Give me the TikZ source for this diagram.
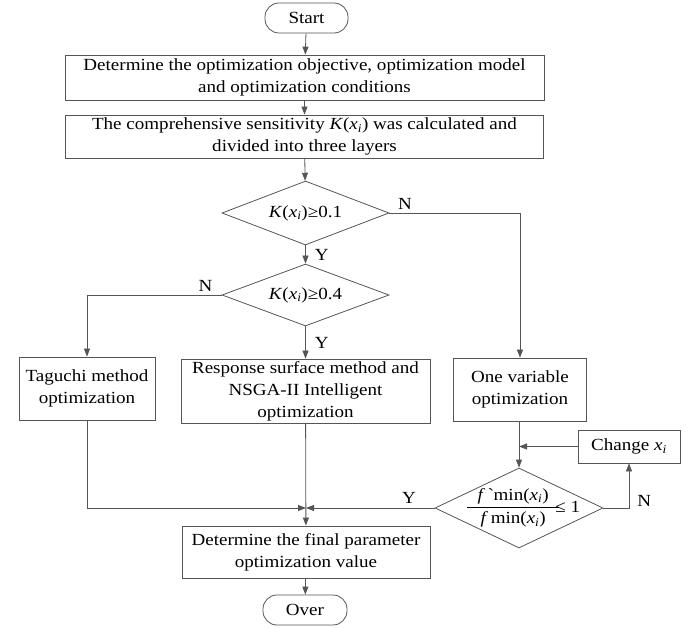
\documentclass[tikz,border=0pt]{standalone}
\usepackage{fontspec}
\setmainfont{Liberation Serif}[FakeStretch=1.12]
\usepackage{amsmath}
\usetikzlibrary{shapes.geometric, arrows.meta, positioning, calc}
\definecolor{flowline}{RGB}{85, 85, 85}
\newcommand{\xsub}{\textit{x}\textsubscript{\textit{i}}}

\begin{document}
\begin{tikzpicture}[x=1pt, y=-1pt,
    font=\fontsize{17}{22}\selectfont,
    every node/.style={inner sep=0pt, align=center},
    term/.style={draw=flowline, line width=0.8pt, rounded corners=14pt},
    procbox/.style={draw=flowline, line width=0.8pt},
    decision/.style={draw=flowline, line width=0.8pt, diamond, aspect=2.5},
    arr/.style={draw=flowline, line width=0.8pt, -{Triangle[length=8pt, width=6pt]}},
    yn/.style={font=\fontsize{17}{18}\selectfont}]
  \useasboundingbox (0,0) rectangle (694,628);

  \node[term, minimum width=83, minimum height=30] (start) at (306.5,18) {Start};
  \node[procbox, minimum width=479, minimum height=45] (goal) at (304.5,77.5)
    {Determine the optimization objective, optimization model\\and optimization conditions};
  \node[procbox, minimum width=478, minimum height=43] (sens) at (304.5,136.5)
    {The comprehensive sensitivity \textit{K}(\xsub) was calculated and\\divided into three layers};
  \node[decision, minimum width=167, minimum height=64] (lowk) at (305.5,213) {\textit{K}(\xsub)≥0.1};
  \node[decision, minimum width=167, minimum height=62] (highk) at (305.5,295) {\textit{K}(\xsub)≥0.4};

  \node[procbox, minimum width=136, minimum height=63] (taguchi) at (87,388.5) {Taguchi method\\optimization};
  \node[procbox, minimum width=249, minimum height=64] (rsm) at (305.5,391)
    {Response surface method and\\NSGA-II Intelligent\\optimization};
  \node[procbox, minimum width=133, minimum height=63] (onevar) at (520,389.5) {One variable\\optimization};

  \node[procbox, minimum width=102, minimum height=33] (change) at (629,446.5) {Change \xsub};
  \node[decision, minimum width=168, minimum height=80] (ratio) at (519,508) {};
  \node (ratiotext) at (ratio) [xshift=4pt]
    {$\dfrac{\makebox[92pt]{\textit{f}\,\textasciigrave min(\xsub)}}{\text{\textit{f}\,min(\xsub)}}$\hspace{-5pt}≤ 1};

  \node[procbox, minimum width=248, minimum height=52] (final) at (306,552)
    {Determine the final parameter\\optimization value};
  \node[term, minimum width=84, minimum height=30] (over) at (305,610) {Over};

  \coordinate (merge) at (final.north |- ratio.west);

  \draw[arr] (start) -- (goal);
  \draw[arr] (goal) -- (sens);
  \draw[arr] (sens) -- (lowk);
  \draw[arr] (lowk) -- node[yn, right=9pt] {Y} (highk);
  \draw[arr] (lowk.east) -| node[yn, pos=0.06, above=3pt] {N} (onevar.north);
  \draw[arr] (highk.west) -| node[yn, pos=0.06, above=3pt] {N} (taguchi.north);
  \draw[arr] (highk) -- node[yn, right=9pt] {Y} (rsm);
  \draw[arr] (onevar.south -| ratio.north) -- (ratio.north);
  \draw[arr] (ratio.east) -| node[yn, pos=0.58, right=8pt] {N} (change.south);
  \draw[arr] (change.west) -- (change.west -| ratio.north);
  \draw[arr] (ratio.west) -- node[yn, pos=0.2, above=4pt] {Y} (merge);
  \draw[arr] (taguchi.south) |- (merge);
  \draw[arr] (rsm) -- (final);
  \draw[arr] (final) -- (over);
\end{tikzpicture}
\end{document}
